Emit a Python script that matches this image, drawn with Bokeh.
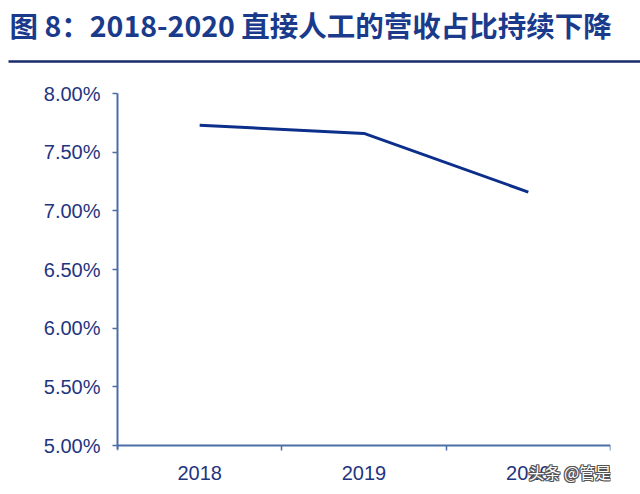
from bokeh.plotting import figure
from bokeh.layouts import column
from bokeh.models import FixedTicker, PrintfTickFormatter, Label, Range1d
from bokeh.embed import file_html
from bokeh.resources import INLINE

# Data
years = ["2018", "2019", "2020"]
labor_share = [7.73, 7.66, 7.16]  # % of revenue
y_ticks = [5.0, 5.5, 6.0, 6.5, 7.0, 7.5, 8.0]
title_text = "图 8：2018-2020 直接人工的营收占比持续下降"
watermark = "头条 @管是"

W = 640
HH = 66          # header height
CH = 494 - HH    # chart height

# ---- header (title + rule) ----
hdr = figure(width=W, height=HH, output_backend="svg", toolbar_location=None,
             x_range=Range1d(0, W), y_range=Range1d(HH, 0),
             min_border=0, min_border_left=0, min_border_right=0,
             min_border_top=0, min_border_bottom=0)
hdr.axis.visible = False
hdr.grid.visible = False
hdr.outline_line_color = None
hdr.background_fill_color = "white"
hdr.border_fill_color = "white"
hdr.frame_align = False
hdr.add_layout(Label(x=9, y=24, text=title_text,
                     text_font="Noto Sans CJK SC", text_font_style="bold",
                     text_font_size="28.5px", text_color="#1a3a8c", text_baseline="middle"))
hdr.segment(x0=[8], y0=[61], x1=[W], y1=[61], line_color="#1a2a6c", line_width=2.5)

# ---- chart ----
px_per_pct = 352 / 3.0
frame_h = CH - 27
y_start = 8.0 - frame_h / px_per_pct
p = figure(width=W, height=CH, output_backend="svg", toolbar_location=None,
           x_range=Range1d(0, len(years)), y_range=Range1d(y_start, 8.0),
           min_border_left=117, min_border_right=30, min_border_top=27, min_border_bottom=0)
p.background_fill_color = "white"
p.border_fill_color = "white"
p.outline_line_color = None
p.grid.visible = False
p.frame_align = False

xs = [i + 0.5 for i in range(len(years))]
p.line(xs, labor_share, line_color="#0d2f8c", line_width=3)

axis_col = "#4a6fa5"
label_col = "#1f3580"

xa = p.xaxis[0]
xa.fixed_location = 5.0
xa.ticker = FixedTicker(ticks=xs, minor_ticks=list(range(len(years) + 1)))
xa.major_label_overrides = {x: y for x, y in zip(xs, years)}
xa.major_tick_out = 0
xa.major_tick_in = 0
xa.minor_tick_out = 5
xa.minor_tick_in = 0
xa.minor_tick_line_color = axis_col
xa.minor_tick_line_width = 1.5
xa.axis_line_color = axis_col
xa.axis_line_width = 2
xa.major_label_text_font = "Liberation Sans"
xa.major_label_text_font_size = "20px"
xa.major_label_text_color = label_col
xa.major_label_standoff = 15

ya = p.yaxis[0]
ya.bounds = (4.97, 8.0)
ya.ticker = FixedTicker(ticks=y_ticks)
ya.formatter = PrintfTickFormatter(format="%.2f%%")
ya.major_tick_out = 5
ya.major_tick_in = 0
ya.minor_tick_line_color = None
ya.major_tick_line_color = axis_col
ya.major_tick_line_width = 1.5
ya.axis_line_color = axis_col
ya.axis_line_width = 2
ya.major_label_text_font = "Liberation Sans"
ya.major_label_text_font_size = "20px"
ya.major_label_text_color = label_col
ya.major_label_standoff = 12

# Watermark (outlined white text), positions relative to the frame
wx, wy = 411, 23
for dx, dy in [(-1, 0), (1, 0), (0, -1), (0, 1), (-1, -1), (1, 1), (-1, 1), (1, -1)]:
    p.add_layout(Label(x=wx + dx, y=wy + dy, x_units="screen", y_units="screen", text=watermark,
                       text_font="Noto Sans CJK SC", text_font_size="16px",
                       text_color="#555555", text_baseline="middle"))
p.add_layout(Label(x=wx, y=wy, x_units="screen", y_units="screen", text=watermark,
                   text_font="Noto Sans CJK SC", text_font_size="16px",
                   text_color="white", text_baseline="middle"))

layout = column(hdr, p, spacing=0)
open("out.html", "w").write(file_html(layout, INLINE))
